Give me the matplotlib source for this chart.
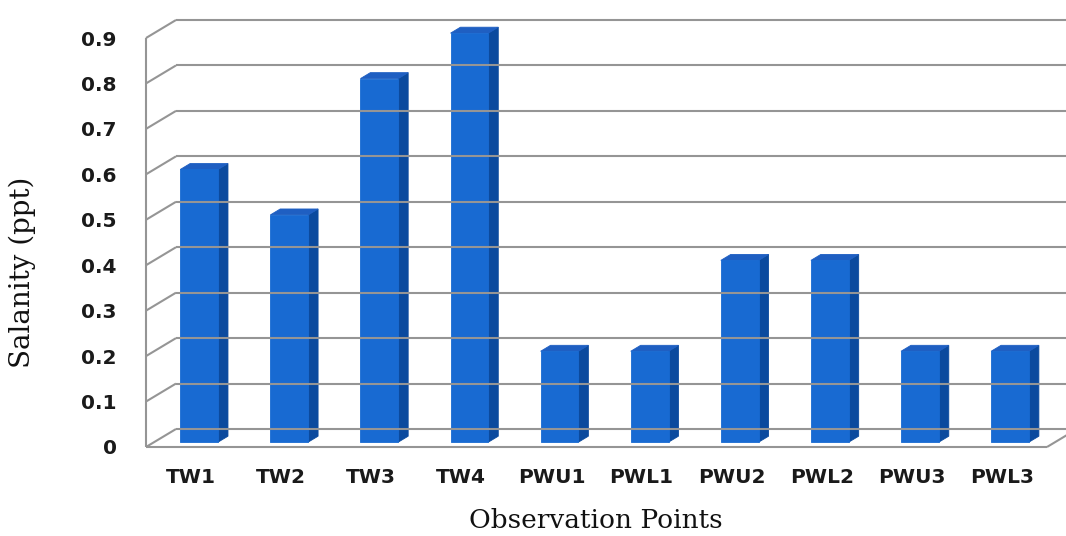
import matplotlib
matplotlib.use("Agg")
import matplotlib.pyplot as plt
import matplotlib.transforms as mtransforms
from matplotlib.patches import Polygon
from matplotlib.lines import Line2D

# Salinity readings at each observation point
categories = ["TW1", "TW2", "TW3", "TW4", "PWU1", "PWL1", "PWU2", "PWL2", "PWU3", "PWL3"]
salinity = [0.6, 0.5, 0.8, 0.9, 0.2, 0.2, 0.4, 0.4, 0.2, 0.2]
y_ticks = [0.0, 0.1, 0.2, 0.3, 0.4, 0.5, 0.6, 0.7, 0.8, 0.9]
y_tick_labels = ["0", "0.1", "0.2", "0.3", "0.4", "0.5", "0.6", "0.7", "0.8", "0.9"]

W, H, DPI = 1066, 536, 100
fig = plt.figure(figsize=(W / DPI, H / DPI), dpi=DPI)
fig.patch.set_facecolor("white")

# Front plane of the 3-D box: value 0 at the floor edge, 0.9 at the top
ax = fig.add_axes([146 / W, 1 - 447 / H, 901 / W, 409 / H])
ax.set_xlim(-0.5, len(categories) - 0.5)
ax.set_ylim(0, 0.9)
for s in ax.spines.values():
    s.set_visible(False)
ax.patch.set_visible(False)

# depth direction of the box (display pixels for a full step into the wall)
DEPTH_DX, DEPTH_DY = 30.0, 18.0
ident = mtransforms.IdentityTransform()


def project(x, y, d):
    """Data point (x, y) pushed d (0 = front, 1 = back wall) into depth."""
    px, py = ax.transData.transform((x, y))
    return px + d * DEPTH_DX, py + d * DEPTH_DY


def seg(p0, p1, **kw):
    line = Line2D([p0[0], p1[0]], [p0[1], p1[1]], transform=ident, **kw)
    fig.add_artist(line)


grid_kw = dict(color="#959595", lw=1.5, solid_capstyle="butt")
x_left, x_right = -0.5, len(categories) - 0.5

# back-wall gridlines and left-wall diagonals
for v in y_ticks:
    seg(project(x_left, v, 1), project(x_right + 0.5, v, 1), **grid_kw)
    seg(project(x_left, v, 0), project(x_left, v, 1), **grid_kw)
# front edge of the left wall
seg(project(x_left, 0, 0), project(x_left, 0.9, 0), **grid_kw)
# floor front edge and right floor edge
seg(project(x_left, 0, 0), project(x_right, 0, 0), **grid_kw)
seg(project(x_right, 0, 0), project(x_right, 0, 1), **grid_kw)

# 3-D columns
BAR_W = 0.42
BAR_D0, BAR_D1 = 0.27, 0.60
front_c, side_c, top_c = "#186ad2", "#0b4a9e", "#1f5fc2"
for i, v in enumerate(salinity):
    x0, x1 = i - BAR_W / 2, i + BAR_W / 2
    front = [project(x0, 0, BAR_D0), project(x1, 0, BAR_D0),
             project(x1, v, BAR_D0), project(x0, v, BAR_D0)]
    side = [project(x1, 0, BAR_D0), project(x1, 0, BAR_D1),
            project(x1, v, BAR_D1), project(x1, v, BAR_D0)]
    top = [project(x0, v, BAR_D0), project(x1, v, BAR_D0),
           project(x1, v, BAR_D1), project(x0, v, BAR_D1)]
    for pts, c in ((side, side_c), (top, top_c), (front, front_c)):
        fig.add_artist(Polygon(pts, closed=True, facecolor=c, edgecolor=c,
                               lw=0.6, transform=ident))

# axis tick labels
ax.set_yticks(y_ticks)
ax.set_yticklabels(y_tick_labels, fontsize=14.5, fontweight="bold",
                   family="DejaVu Sans", color="#1a1a1a")
ax.set_xticks(range(len(categories)))
ax.set_xticklabels(categories, fontsize=14.5, fontweight="bold",
                   family="DejaVu Sans", color="#1a1a1a")
ax.tick_params(axis="y", length=0, pad=21)
ax.tick_params(axis="x", length=0, pad=15)

fig.text(22 / W, 1 - 272 / H, "Salanity (ppt)", rotation=90, ha="center",
         va="center", fontsize=20, family="DejaVu Serif", color="#111111")
fig.text(596 / W, 1 - 520 / H, "Observation Points", ha="center", va="center",
         fontsize=19, family="DejaVu Serif", color="#111111")

fig.savefig("out.png", dpi=DPI)
